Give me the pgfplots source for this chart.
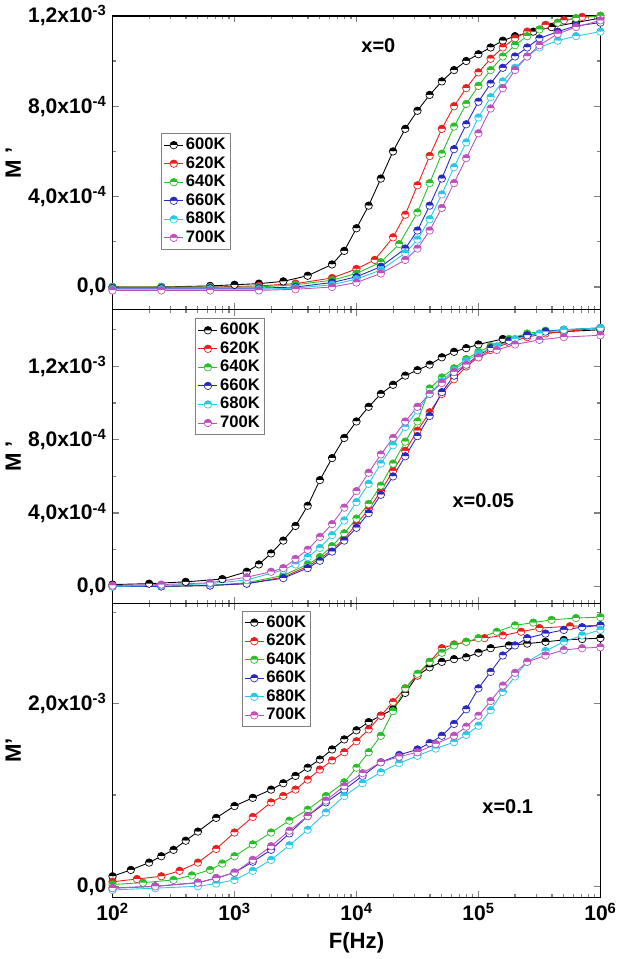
\documentclass[border=0pt]{standalone}
\usepackage{fontspec}
\setmainfont{Liberation Sans}
\usepackage{pgfplots}
\pgfplotsset{compat=1.18}
\usepgfplotslibrary{groupplots}
\definecolor{cR}{RGB}{235,30,30}
\definecolor{cG}{RGB}{40,190,40}
\definecolor{cB}{RGB}{40,40,190}
\definecolor{cC}{RGB}{40,200,230}
\definecolor{cM}{RGB}{190,80,190}
\begin{document}
\fontsize{15}{18}\selectfont\bfseries
\begin{tikzpicture}
\pgfplotsset{
 every axis/.append style={line width=1.3pt},
 s/.style={line width=0.8pt, mark=halfcircle*, mark size=3.4pt, mark options={line width=0.6pt, fill=#1, draw=#1}, color=#1},
}
\begin{groupplot}[group style={group size=1 by 3, vertical sep=0pt},
  width=440pt, height=265pt, scale only axis,
  xmin=2, xmax=6, xtick={2,3,4,5,6},
  minor xtick={2.301,2.477,2.602,2.699,2.778,2.845,2.903,2.954,3.301,3.477,3.602,3.699,3.778,3.845,3.903,3.954,4.301,4.477,4.602,4.699,4.778,4.845,4.903,4.954,5.301,5.477,5.602,5.699,5.778,5.845,5.903,5.954},
  tick align=inside, major tick length=6pt, minor tick length=3pt,
  tick style={line width=1.2pt},
  tick label style={font=\fontsize{19}{22}\selectfont\bfseries},
  ylabel style={font=\fontsize{20}{22}\selectfont\bfseries, yshift=-4pt},
  legend cell align=left,
  legend style={draw=gray, line width=0.6pt, font=\fontsize{15}{16}\selectfont\bfseries, row sep=0pt, inner sep=2pt},
]
\nextgroupplot[ymin=-1, ymax=12, ytick={0,4,8,12}, minor ytick={2,6,10},
  yticklabels={{0,0}, {4,0x10\textsuperscript{-4}}, {8,0x10\textsuperscript{-4}}, {1,2x10\textsuperscript{-3}}},
  xticklabels={}, ylabel={M '},
  legend style={at={(0.1,0.6)}, anchor=north west}]
\addplot[s=black] coordinates {(2.0,0.0)(2.4,0.0)(2.8,0.05)(3.0,0.1)(3.2,0.15)(3.4,0.25)(3.6,0.5)(3.8,1.0)(3.9,1.6)(4.0,2.6)(4.1,3.6)(4.2,4.8)(4.3,6.0)(4.4,7.0)(4.5,7.8)(4.6,8.5)(4.7,9.1)(4.8,9.6)(4.9,10.0)(5.0,10.3)(5.1,10.6)(5.2,10.9)(5.3,11.1)(5.45,11.3)(5.6,11.5)(5.8,11.7)(6.0,11.9)};
\addplot[s=cR] coordinates {(2.0,0.0)(2.4,0.0)(2.8,0.0)(3.2,0.05)(3.5,0.15)(3.8,0.4)(4.0,0.8)(4.15,1.2)(4.3,2.2)(4.4,3.2)(4.5,4.5)(4.6,5.8)(4.7,7.0)(4.8,8.0)(4.9,8.8)(5.0,9.5)(5.1,10.1)(5.2,10.6)(5.3,11.0)(5.4,11.3)(5.55,11.6)(5.7,11.8)(5.85,11.95)(6.0,12.0)};
\addplot[s=cG] coordinates {(2.0,0.0)(2.4,0.0)(2.8,0.0)(3.2,0.0)(3.5,0.1)(3.8,0.3)(4.0,0.6)(4.2,1.1)(4.35,1.9)(4.5,3.3)(4.6,4.6)(4.7,5.9)(4.8,7.1)(4.9,8.1)(5.0,8.9)(5.1,9.6)(5.2,10.2)(5.3,10.7)(5.4,11.1)(5.5,11.4)(5.65,11.7)(5.8,11.9)(6.0,12.0)};
\addplot[s=cB] coordinates {(2.0,-0.05)(2.4,-0.05)(2.8,-0.05)(3.2,-0.05)(3.5,0.0)(3.8,0.2)(4.0,0.45)(4.2,0.9)(4.4,1.7)(4.5,2.5)(4.6,3.6)(4.7,4.8)(4.8,6.1)(4.9,7.2)(5.0,8.2)(5.1,9.0)(5.2,9.7)(5.3,10.2)(5.4,10.6)(5.5,11.0)(5.65,11.3)(5.8,11.55)(6.0,11.7)};
\addplot[s=cC] coordinates {(2.0,-0.1)(2.4,-0.1)(2.8,-0.1)(3.2,-0.1)(3.5,-0.05)(3.8,0.1)(4.0,0.35)(4.2,0.75)(4.4,1.5)(4.5,2.1)(4.6,3.0)(4.7,4.1)(4.8,5.3)(4.9,6.4)(5.0,7.5)(5.1,8.4)(5.2,9.1)(5.3,9.7)(5.4,10.2)(5.5,10.6)(5.65,10.9)(5.8,11.1)(6.0,11.3)};
\addplot[s=cM] coordinates {(2.0,-0.15)(2.4,-0.15)(2.8,-0.15)(3.2,-0.15)(3.5,-0.1)(3.8,0.0)(4.0,0.2)(4.2,0.6)(4.4,1.2)(4.5,1.7)(4.6,2.5)(4.7,3.5)(4.8,4.6)(4.9,5.7)(5.0,6.8)(5.1,7.9)(5.2,8.8)(5.3,9.6)(5.4,10.2)(5.5,10.7)(5.65,11.2)(5.8,11.5)(6.0,11.8)};
\legend{600K,620K,640K,660K,680K,700K}
\node[font=\fontsize{18}{20}\selectfont\bfseries] at (rel axis cs:0.545,0.9) {x=0};

\nextgroupplot[ymin=-0.93, ymax=15.1, ytick={0,4,8,12}, minor ytick={2,6,10,14},
  yticklabels={{0,0}, {4,0x10\textsuperscript{-4}}, {8,0x10\textsuperscript{-4}}, {1,2x10\textsuperscript{-3}}},
  xticklabels={}, ylabel={M '},
  legend style={at={(0.17,0.97)}, anchor=north west}]
\addplot[s=black] coordinates {(2.0,0.1)(2.3,0.15)(2.6,0.25)(2.9,0.4)(3.1,0.8)(3.2,1.2)(3.3,1.8)(3.4,2.5)(3.5,3.3)(3.6,4.4)(3.7,5.8)(3.8,7.0)(3.9,8.1)(4.0,9.0)(4.1,9.8)(4.2,10.5)(4.3,11.0)(4.4,11.5)(4.5,11.8)(4.6,12.1)(4.7,12.5)(4.8,12.8)(4.9,13.0)(5.0,13.2)(5.2,13.5)(5.4,13.7)(5.7,13.9)(6.0,14.0)};
\addplot[s=cR] coordinates {(2.0,0.0)(2.4,0.0)(2.8,0.05)(3.1,0.15)(3.4,0.5)(3.6,1.1)(3.7,1.5)(3.8,2.0)(3.9,2.6)(4.0,3.4)(4.1,4.2)(4.2,5.2)(4.3,6.3)(4.4,7.4)(4.5,8.5)(4.6,9.5)(4.7,10.5)(4.8,11.3)(4.9,12.0)(5.0,12.5)(5.1,12.9)(5.25,13.3)(5.4,13.6)(5.55,13.8)(5.7,13.9)(6.0,14.1)};
\addplot[s=cG] coordinates {(2.0,0.0)(2.4,0.0)(2.8,0.05)(3.1,0.2)(3.4,0.6)(3.6,1.2)(3.7,1.6)(3.8,2.2)(3.9,2.9)(4.0,3.7)(4.1,4.5)(4.2,5.5)(4.3,6.7)(4.4,7.9)(4.5,9.0)(4.6,10.8)(4.7,11.4)(4.8,11.9)(4.9,12.4)(5.0,12.8)(5.1,13.1)(5.25,13.5)(5.4,13.8)(5.55,13.95)(5.7,14.0)(6.0,14.1)};
\addplot[s=cB] coordinates {(2.0,0.0)(2.4,0.0)(2.8,0.05)(3.1,0.15)(3.4,0.45)(3.6,1.0)(3.7,1.4)(3.8,1.9)(3.9,2.5)(4.0,3.2)(4.1,4.0)(4.2,5.0)(4.3,6.0)(4.4,7.1)(4.5,8.2)(4.6,9.3)(4.7,10.6)(4.8,11.5)(4.9,12.1)(5.0,12.6)(5.1,13.0)(5.25,13.4)(5.4,13.7)(5.55,13.9)(5.7,14.0)(6.0,14.1)};
\addplot[s=cC] coordinates {(2.0,0.0)(2.4,0.05)(2.8,0.15)(3.1,0.35)(3.4,0.9)(3.5,1.2)(3.6,1.6)(3.7,2.1)(3.8,2.8)(3.9,3.6)(4.0,4.6)(4.1,5.6)(4.2,6.7)(4.3,7.7)(4.4,8.7)(4.5,9.6)(4.6,10.5)(4.7,11.2)(4.8,11.8)(4.9,12.3)(5.0,12.7)(5.15,13.1)(5.3,13.5)(5.5,13.8)(5.7,14.0)(6.0,14.1)};
\addplot[s=cM] coordinates {(2.0,0.05)(2.4,0.1)(2.8,0.2)(3.1,0.5)(3.3,0.8)(3.4,1.0)(3.5,1.5)(3.6,2.0)(3.7,2.7)(3.8,3.4)(3.9,4.3)(4.0,5.2)(4.1,6.2)(4.2,7.2)(4.3,8.1)(4.4,9.0)(4.5,9.8)(4.6,10.5)(4.7,11.1)(4.8,11.7)(4.9,12.1)(5.0,12.5)(5.15,12.9)(5.3,13.2)(5.5,13.45)(5.7,13.6)(6.0,13.7)};
\legend{600K,620K,640K,660K,680K,700K}
\node[font=\fontsize{18}{20}\selectfont\bfseries] at (rel axis cs:0.76,0.35) {x=0.05};

\nextgroupplot[ymin=-0.12, ymax=3.1, ytick={0,2}, minor ytick={1,3},
  yticklabels={{0,0}, {2,0x10\textsuperscript{-3}}},
  xticklabels={$\mathbf{10^{2}}$,$\mathbf{10^{3}}$,$\mathbf{10^{4}}$,$\mathbf{10^{5}}$,$\mathbf{10^{6}}$},
  xlabel={F(Hz)}, ylabel={M'},
  xlabel style={font=\fontsize{20}{22}\selectfont\bfseries},
  legend style={at={(0.265,0.975)}, anchor=north west}]
\addplot[s=black] coordinates {(2.0,0.11)(2.15,0.18)(2.3,0.26)(2.4,0.33)(2.5,0.40)(2.6,0.50)(2.7,0.60)(2.85,0.75)(3.0,0.88)(3.15,0.97)(3.3,1.06)(3.4,1.13)(3.5,1.21)(3.6,1.30)(3.7,1.39)(3.8,1.50)(3.9,1.61)(4.0,1.71)(4.1,1.80)(4.2,1.87)(4.3,1.94)(4.4,2.12)(4.5,2.31)(4.6,2.40)(4.7,2.46)(4.8,2.49)(4.9,2.51)(5.0,2.56)(5.1,2.61)(5.25,2.64)(5.4,2.66)(5.55,2.68)(5.7,2.70)(5.85,2.71)(6.0,2.72)};
\addplot[s=cR] coordinates {(2.0,0.05)(2.2,0.08)(2.4,0.11)(2.55,0.17)(2.7,0.26)(2.85,0.41)(3.0,0.59)(3.15,0.76)(3.3,0.92)(3.4,0.99)(3.5,1.06)(3.6,1.17)(3.7,1.28)(3.8,1.38)(3.9,1.47)(4.0,1.59)(4.1,1.72)(4.2,1.87)(4.3,2.02)(4.4,2.17)(4.5,2.31)(4.6,2.46)(4.7,2.61)(4.8,2.65)(4.9,2.68)(5.05,2.72)(5.2,2.75)(5.35,2.79)(5.5,2.83)(5.75,2.85)(6.0,2.86)};
\addplot[s=cG] coordinates {(2.0,0.02)(2.25,0.04)(2.5,0.07)(2.65,0.12)(2.8,0.18)(2.9,0.25)(3.0,0.33)(3.15,0.46)(3.3,0.59)(3.45,0.72)(3.6,0.84)(3.75,0.99)(3.9,1.14)(4.0,1.30)(4.1,1.47)(4.2,1.65)(4.3,1.92)(4.4,2.17)(4.5,2.33)(4.6,2.46)(4.7,2.56)(4.8,2.64)(4.9,2.68)(5.0,2.72)(5.15,2.79)(5.3,2.86)(5.45,2.89)(5.6,2.92)(5.8,2.94)(6.0,2.95)};
\addplot[s=cB] coordinates {(2.0,-0.02)(2.35,0.0)(2.7,0.04)(2.85,0.09)(3.0,0.15)(3.15,0.27)(3.3,0.40)(3.45,0.58)(3.6,0.77)(3.75,0.92)(3.9,1.06)(4.05,1.21)(4.2,1.36)(4.35,1.44)(4.5,1.50)(4.6,1.57)(4.7,1.65)(4.8,1.78)(4.9,1.94)(5.0,2.17)(5.1,2.35)(5.2,2.53)(5.3,2.64)(5.4,2.72)(5.55,2.77)(5.7,2.81)(5.85,2.84)(6.0,2.86)};
\addplot[s=cC] coordinates {(2.0,-0.04)(2.35,-0.02)(2.7,0.0)(2.85,0.03)(3.0,0.07)(3.15,0.17)(3.3,0.29)(3.45,0.45)(3.6,0.62)(3.75,0.81)(3.9,0.99)(4.05,1.13)(4.2,1.25)(4.35,1.35)(4.5,1.43)(4.65,1.51)(4.8,1.58)(4.9,1.66)(5.0,1.76)(5.1,1.93)(5.2,2.13)(5.3,2.30)(5.4,2.46)(5.55,2.58)(5.7,2.68)(5.85,2.75)(6.0,2.81)};
\addplot[s=cM] coordinates {(2.0,-0.02)(2.35,0.0)(2.7,0.04)(2.85,0.09)(3.0,0.15)(3.15,0.29)(3.3,0.44)(3.45,0.61)(3.6,0.77)(3.75,0.94)(3.9,1.10)(4.05,1.24)(4.2,1.36)(4.35,1.42)(4.5,1.47)(4.65,1.56)(4.8,1.65)(4.9,1.75)(5.0,1.87)(5.1,2.03)(5.2,2.20)(5.3,2.34)(5.4,2.46)(5.55,2.53)(5.7,2.59)(5.85,2.61)(6.0,2.62)};
\legend{600K,620K,640K,660K,680K,700K}
\node[font=\fontsize{18}{20}\selectfont\bfseries] at (rel axis cs:0.81,0.31) {x=0.1};
\end{groupplot}
\end{tikzpicture}
\end{document}
